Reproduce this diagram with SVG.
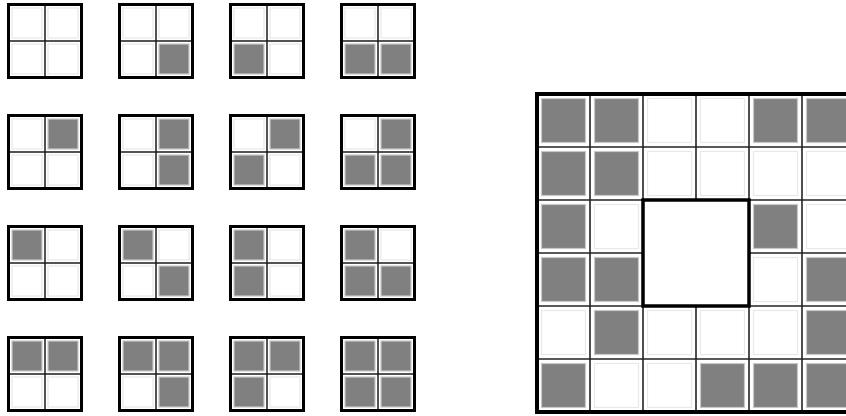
<svg xmlns="http://www.w3.org/2000/svg" width="846" height="416" viewBox="0 0 846 416">
<style>
.bg{fill:#fff}
.g{fill:#808080;stroke:#c8c8c8;stroke-width:1.2}
.w{fill:#fff;stroke:#e8e8e8;stroke-width:1.2}
.ob{fill:none;stroke:#000;stroke-width:3}
.il{stroke:#1a1a1a;stroke-width:1.5}
.bl{stroke:#222;stroke-width:1.6}
.bo{fill:none;stroke:#000;stroke-width:4}
.bc{fill:#fff;stroke:#000;stroke-width:3.5}
</style>
<rect class="bg" x="0" y="0" width="846" height="416"/>
<defs>
<g id="frame"><line class="il" x1="38" y1="3" x2="38" y2="73"/><line class="il" x1="3" y1="38" x2="73" y2="38"/><rect class="ob" x="1.5" y="1.5" width="73" height="73"/></g>
</defs>
<g id="g0" transform="translate(7,3)"><rect class="w" x="5" y="5" width="30" height="30"/><rect class="w" x="41" y="5" width="30" height="30"/><rect class="w" x="5" y="41" width="30" height="30"/><rect class="w" x="41" y="41" width="30" height="30"/><use href="#frame"/></g>
<g id="g1" transform="translate(118,3)"><rect class="w" x="5" y="5" width="30" height="30"/><rect class="w" x="41" y="5" width="30" height="30"/><rect class="w" x="5" y="41" width="30" height="30"/><rect class="g" x="41" y="41" width="30" height="30"/><use href="#frame"/></g>
<g id="g2" transform="translate(229,3)"><rect class="w" x="5" y="5" width="30" height="30"/><rect class="w" x="41" y="5" width="30" height="30"/><rect class="g" x="5" y="41" width="30" height="30"/><rect class="w" x="41" y="41" width="30" height="30"/><use href="#frame"/></g>
<g id="g3" transform="translate(340,3)"><rect class="w" x="5" y="5" width="30" height="30"/><rect class="w" x="41" y="5" width="30" height="30"/><rect class="g" x="5" y="41" width="30" height="30"/><rect class="g" x="41" y="41" width="30" height="30"/><use href="#frame"/></g>
<g id="g4" transform="translate(7,114)"><rect class="w" x="5" y="5" width="30" height="30"/><rect class="g" x="41" y="5" width="30" height="30"/><rect class="w" x="5" y="41" width="30" height="30"/><rect class="w" x="41" y="41" width="30" height="30"/><use href="#frame"/></g>
<g id="g5" transform="translate(118,114)"><rect class="w" x="5" y="5" width="30" height="30"/><rect class="g" x="41" y="5" width="30" height="30"/><rect class="w" x="5" y="41" width="30" height="30"/><rect class="g" x="41" y="41" width="30" height="30"/><use href="#frame"/></g>
<g id="g6" transform="translate(229,114)"><rect class="w" x="5" y="5" width="30" height="30"/><rect class="g" x="41" y="5" width="30" height="30"/><rect class="g" x="5" y="41" width="30" height="30"/><rect class="w" x="41" y="41" width="30" height="30"/><use href="#frame"/></g>
<g id="g7" transform="translate(340,114)"><rect class="w" x="5" y="5" width="30" height="30"/><rect class="g" x="41" y="5" width="30" height="30"/><rect class="g" x="5" y="41" width="30" height="30"/><rect class="g" x="41" y="41" width="30" height="30"/><use href="#frame"/></g>
<g id="g8" transform="translate(7,225)"><rect class="g" x="5" y="5" width="30" height="30"/><rect class="w" x="41" y="5" width="30" height="30"/><rect class="w" x="5" y="41" width="30" height="30"/><rect class="w" x="41" y="41" width="30" height="30"/><use href="#frame"/></g>
<g id="g9" transform="translate(118,225)"><rect class="g" x="5" y="5" width="30" height="30"/><rect class="w" x="41" y="5" width="30" height="30"/><rect class="w" x="5" y="41" width="30" height="30"/><rect class="g" x="41" y="41" width="30" height="30"/><use href="#frame"/></g>
<g id="g10" transform="translate(229,225)"><rect class="g" x="5" y="5" width="30" height="30"/><rect class="w" x="41" y="5" width="30" height="30"/><rect class="g" x="5" y="41" width="30" height="30"/><rect class="w" x="41" y="41" width="30" height="30"/><use href="#frame"/></g>
<g id="g11" transform="translate(340,225)"><rect class="g" x="5" y="5" width="30" height="30"/><rect class="w" x="41" y="5" width="30" height="30"/><rect class="g" x="5" y="41" width="30" height="30"/><rect class="g" x="41" y="41" width="30" height="30"/><use href="#frame"/></g>
<g id="g12" transform="translate(7,336)"><rect class="g" x="5" y="5" width="30" height="30"/><rect class="g" x="41" y="5" width="30" height="30"/><rect class="w" x="5" y="41" width="30" height="30"/><rect class="w" x="41" y="41" width="30" height="30"/><use href="#frame"/></g>
<g id="g13" transform="translate(118,336)"><rect class="g" x="5" y="5" width="30" height="30"/><rect class="g" x="41" y="5" width="30" height="30"/><rect class="w" x="5" y="41" width="30" height="30"/><rect class="g" x="41" y="41" width="30" height="30"/><use href="#frame"/></g>
<g id="g14" transform="translate(229,336)"><rect class="g" x="5" y="5" width="30" height="30"/><rect class="g" x="41" y="5" width="30" height="30"/><rect class="g" x="5" y="41" width="30" height="30"/><rect class="w" x="41" y="41" width="30" height="30"/><use href="#frame"/></g>
<g id="g15" transform="translate(340,336)"><rect class="g" x="5" y="5" width="30" height="30"/><rect class="g" x="41" y="5" width="30" height="30"/><rect class="g" x="5" y="41" width="30" height="30"/><rect class="g" x="41" y="41" width="30" height="30"/><use href="#frame"/></g>
<g id="board" transform="translate(537,94)">
<g id="board-cells">
<rect class="g" x="4.5" y="4.5" width="44" height="44"/><rect class="g" x="57.5" y="4.5" width="44" height="44"/><rect class="w" x="110.5" y="4.5" width="44" height="44"/><rect class="w" x="163.5" y="4.5" width="44" height="44"/><rect class="g" x="216.5" y="4.5" width="44" height="44"/><rect class="g" x="269.5" y="4.5" width="44" height="44"/>
<rect class="g" x="4.5" y="57.5" width="44" height="44"/><rect class="g" x="57.5" y="57.5" width="44" height="44"/><rect class="w" x="110.5" y="57.5" width="44" height="44"/><rect class="w" x="163.5" y="57.5" width="44" height="44"/><rect class="w" x="216.5" y="57.5" width="44" height="44"/><rect class="w" x="269.5" y="57.5" width="44" height="44"/>
<rect class="g" x="4.5" y="110.5" width="44" height="44"/><rect class="w" x="57.5" y="110.5" width="44" height="44"/><rect class="g" x="216.5" y="110.5" width="44" height="44"/><rect class="w" x="269.5" y="110.5" width="44" height="44"/>
<rect class="g" x="4.5" y="163.5" width="44" height="44"/><rect class="g" x="57.5" y="163.5" width="44" height="44"/><rect class="w" x="216.5" y="163.5" width="44" height="44"/><rect class="g" x="269.5" y="163.5" width="44" height="44"/>
<rect class="w" x="4.5" y="216.5" width="44" height="44"/><rect class="g" x="57.5" y="216.5" width="44" height="44"/><rect class="w" x="110.5" y="216.5" width="44" height="44"/><rect class="w" x="163.5" y="216.5" width="44" height="44"/><rect class="w" x="216.5" y="216.5" width="44" height="44"/><rect class="g" x="269.5" y="216.5" width="44" height="44"/>
<rect class="g" x="4.5" y="269.5" width="44" height="44"/><rect class="w" x="57.5" y="269.5" width="44" height="44"/><rect class="w" x="110.5" y="269.5" width="44" height="44"/><rect class="g" x="163.5" y="269.5" width="44" height="44"/><rect class="g" x="216.5" y="269.5" width="44" height="44"/><rect class="g" x="269.5" y="269.5" width="44" height="44"/>
</g>
<g id="board-lines">
<line class="bl" x1="53" y1="0" x2="53" y2="318"/><line class="bl" x1="106" y1="0" x2="106" y2="318"/><line class="bl" x1="159" y1="0" x2="159" y2="318"/><line class="bl" x1="212" y1="0" x2="212" y2="318"/><line class="bl" x1="265" y1="0" x2="265" y2="318"/>
<line class="bl" x1="0" y1="53" x2="318" y2="53"/><line class="bl" x1="0" y1="106" x2="318" y2="106"/><line class="bl" x1="0" y1="159" x2="318" y2="159"/><line class="bl" x1="0" y1="212" x2="318" y2="212"/><line class="bl" x1="0" y1="265" x2="318" y2="265"/>
<rect class="bc" x="106" y="106" width="106" height="106"/>
<rect class="bo" x="0" y="0" width="318" height="318"/>
</g>
</g>
</svg>
